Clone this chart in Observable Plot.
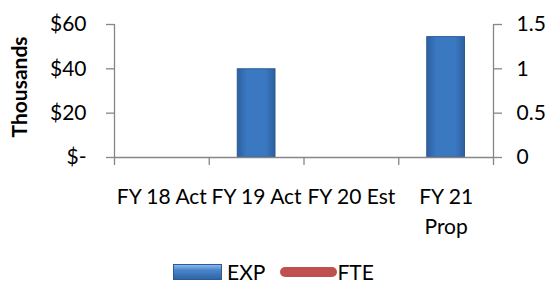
<!DOCTYPE html>
<html><head><meta charset="utf-8">
<script src="https://cdn.jsdelivr.net/npm/d3@7"></script>
<script src="https://cdn.jsdelivr.net/npm/@observablehq/plot@0.6"></script>
<style>
body{margin:0;background:#fff;font-family:Lato,sans-serif;}
#wrap{position:relative;width:548px;height:283px;overflow:hidden;}
#legend{position:absolute;left:173px;top:262px;height:20px;display:flex;align-items:center;font-size:21px;line-height:20px;color:#000;}
.sw1{width:49px;height:16px;background:linear-gradient(#8ab8ec,#4a86cc 35%,#2f64a6);border:1px solid #2a5b94;box-sizing:border-box;}
.sw2{width:57px;height:10px;background:#C0504D;border-radius:5px;margin-left:15px;}
</style></head>
<body><div id="wrap"><div id="chart"></div>
<div id="legend"><div class="sw1"></div><span style="margin-left:5px">EXP</span><div class="sw2"></div><span>FTE</span></div></div>
<script>
const categories = ["FY 18 Act", "FY 19 Act", "FY 20 Est", "FY 21\nProp"];
const expThousands = [null, 39.8, null, 54.3];
const fte = [null, null, null, null];
const leftTicks = [0, 20, 40, 60];
const rightTicks = [0, 0.5, 1, 1.5];

const data = categories.map((c, i) => ({i, c, exp: expThousands[i], fte: fte[i]}));
const fteToY = v => v * 40;
const gray = "#868686";

const chart = Plot.plot({
  width: 548, height: 259,
  marginLeft: 114, marginRight: 55, marginTop: 24, marginBottom: 102,
  style: {fontFamily: "Lato, sans-serif", fontSize: "21px", color: "#000", background: "#fff"},
  x: {type: "linear", domain: [0, categories.length], axis: null},
  y: {domain: [0, 60], axis: null},
  marks: [
    Plot.rectY(data.filter(d => d.exp != null), {x1: "i", x2: d => d.i + 1, y: "exp", insetLeft: 28.5, insetRight: 28.5, fill: "url(#barGrad)", stroke: "#2a5b94", strokeWidth: 1}),
    Plot.ruleY([0], {stroke: gray, strokeWidth: 1.3}),
    Plot.ruleX([0], {stroke: gray, strokeWidth: 1.3}),
    Plot.ruleX([categories.length], {stroke: gray, strokeWidth: 1.3}),
    Plot.axisX(d3.range(categories.length + 1), {tickSize: 8, tickFormat: () => "", stroke: gray, strokeWidth: 1.3, label: null}),
    Plot.text(data, {x: d => d.i + 0.5, y: () => 0, text: "c", lineAnchor: "top", dy: 25, lineHeight: 1.43, fill: "#000"}),
    Plot.axisY(leftTicks, {anchor: "left", tickSize: 8, tickPadding: 20, stroke: gray, strokeWidth: 1.3, tickFormat: d => d === 0 ? "$-" : "$" + d, label: null, fill: "#000"}),
    Plot.axisY(rightTicks.map(fteToY), {anchor: "right", tickSize: 8, tickPadding: 15, stroke: gray, strokeWidth: 1.3, tickFormat: d => String(d / 40), label: null, fill: "#000"}),
    Plot.lineY(data, {x: d => d.i + 0.5, y: d => d.fte == null ? NaN : fteToY(d.fte), stroke: "#C0504D", strokeWidth: 4}),
    Plot.text(["Thousands"], {frameAnchor: "left", textAnchor: "middle", dx: -94, dy: -4, rotate: -90, fontWeight: "bold", fill: "#000"})
  ]
});
const defs = d3.select(chart).insert("defs", ":first-child");
const g = defs.append("linearGradient").attr("id", "barGrad").attr("x1", 0).attr("x2", 1).attr("y1", 0).attr("y2", 0);
g.append("stop").attr("offset", "0%").attr("stop-color", "#2d5f9e");
g.append("stop").attr("offset", "25%").attr("stop-color", "#3a78c2");
g.append("stop").attr("offset", "75%").attr("stop-color", "#3a78c2");
g.append("stop").attr("offset", "100%").attr("stop-color", "#2d5f9e");
document.getElementById("chart").appendChild(chart);
</script></body></html>
